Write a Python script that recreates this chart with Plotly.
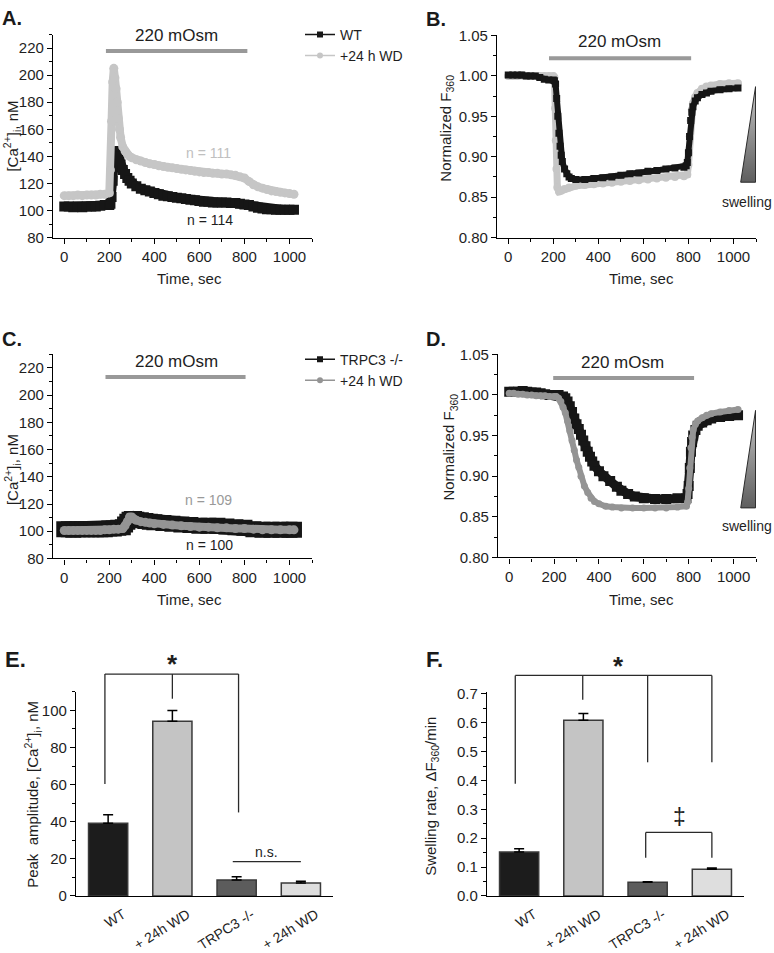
import plotly.graph_objects as go

W, H = 774, 953
FONT = "Liberation Sans, Arial, sans-serif"
INK = "#161616"
LIGHT = "#c6c6c6"
MID = "#949494"
BAR_LINE = "#3a3a3a"

# ---- A: [Ca2+]i, WT and +24 h WD
t_a = [0, 20, 40, 60, 80, 100, 120, 140, 160, 180, 200,
       205, 210, 215, 220, 225, 230, 235, 240, 245, 250,
       260, 270, 280, 290, 300,
       320, 340, 360, 380, 400, 420, 440, 460, 480, 500, 520, 540, 560, 580, 600,
       620, 640, 660, 680, 700, 720, 740, 760, 780, 800, 820, 840, 860, 880, 900,
       920, 940, 960, 980, 1000, 1020]
ca_wt = [103, 103, 102.5, 103, 102.5, 103, 103, 103, 103.5, 104, 104,
         105, 110, 122, 132, 140, 144, 143, 140, 137, 134,
         130, 127, 124, 122, 120,
         118, 116, 115, 114, 113, 112, 111, 110.5, 110, 109.5, 109, 108.5, 108, 107.5, 107,
         106.5, 106.5, 106, 106, 106, 106, 105.5, 105.5, 105, 104.5, 104, 103, 102, 101.5, 101,
         101, 100.5, 100.5, 100.5, 100.5, 100.5]
ca_wd = [111, 111, 111, 111.5, 111, 111.5, 111.5, 111.5, 112, 112, 113,
         130, 166, 195, 205, 198, 190, 180, 168, 160, 154,
         147, 144, 141.5, 140, 139,
         137.5, 136.5, 135.5, 134.5, 134, 133, 132.5, 132, 131.5, 131, 130.5, 130, 129.5, 129, 128.5,
         128, 128, 127.5, 127.5, 127, 127, 126.5, 126, 125, 124, 121.5, 119, 117.5, 116.5, 115.5,
         114.5, 114, 113.5, 113, 112.5, 112]

# ---- B: normalized F360, WT and +24 h WD
t_b_wt = [0, 20, 40, 60, 80, 100, 120, 140, 160, 180, 200,
          205, 210, 215, 220, 225, 230, 235, 240, 250, 260, 270, 280,
          300, 340, 380, 420, 460, 500, 540, 580, 620, 660, 700, 740, 780,
          790, 795, 800, 805, 810, 815, 820, 830, 840, 860, 880, 900, 940, 980, 1020]
f_wt = [1.001, 1.001, 1.001, 1.001, 1.000, 1.000, 1.000, 0.998, 0.996, 0.995, 0.995,
        0.994, 0.990, 0.972, 0.950, 0.929, 0.913, 0.902, 0.894, 0.885, 0.879, 0.875, 0.873,
        0.872, 0.872, 0.873, 0.874, 0.875, 0.877, 0.879, 0.880, 0.882, 0.883, 0.885, 0.886, 0.887,
        0.889, 0.893, 0.905, 0.925, 0.945, 0.955, 0.962, 0.969, 0.973, 0.977, 0.979, 0.981, 0.983,
        0.984, 0.985]
t_b_wd = [0, 20, 40, 60, 80, 100, 120, 140, 160, 180, 200,
          205, 208, 211, 214, 218, 225, 235, 250, 270,
          300, 340, 380, 420, 460, 500, 540, 580, 620, 660, 700, 740, 780,
          795, 800, 803, 806, 810, 815, 820, 830, 840, 860, 880, 900, 940, 980, 1020]
f_wd = [1.000, 1.000, 1.000, 1.001, 1.000, 1.000, 1.000, 1.000, 1.000, 1.000, 1.000,
        0.998, 0.960, 0.920, 0.885, 0.862, 0.857, 0.858, 0.860, 0.862,
        0.864, 0.865, 0.866, 0.867, 0.868, 0.869, 0.870, 0.871, 0.872, 0.873, 0.874, 0.875, 0.876,
        0.878, 0.890, 0.905, 0.925, 0.945, 0.958, 0.966, 0.974, 0.979, 0.984, 0.987, 0.988,
        0.990, 0.991, 0.991]

# ---- C: [Ca2+]i, TRPC3 -/- and +24 h WD
t_c = [0, 20, 40, 60, 80, 100, 120, 140, 160, 180, 200, 220, 240, 260,
       270, 280, 290, 300, 310, 320, 340, 360, 380, 400,
       440, 480, 520, 560, 600, 640, 680, 720, 760, 800, 840, 880, 920, 960, 1000, 1020]
ca_ko = [101.5, 101.5, 101, 101.5, 101.5, 101.5, 101.5, 101.5, 101.5, 101.5, 102, 102, 102.5, 103,
         105, 107, 108.5, 109, 109, 108.5, 108, 107.5, 107, 106.5,
         106, 105.5, 105, 104.5, 104, 104, 104, 103.5, 103, 102.5, 101.5, 101, 101, 101, 101, 101]
ca_ko_wd = [100.5, 100.5, 100.5, 100.5, 100.5, 100.5, 100.5, 100.5, 100.5, 101, 101, 101.5, 101.5, 102,
            104, 107, 110.5, 110.5, 109, 108, 107, 106.5, 106, 105.5,
            105, 104.5, 104, 103.5, 103, 103, 102.5, 102.5, 102, 102, 101.5, 101, 101, 101, 101, 101]

# ---- D: normalized F360, TRPC3 -/- and +24 h WD
t_d_ko = [0, 20, 40, 60, 80, 100, 120, 140, 160, 180, 200, 220, 240,
          250, 260, 270, 280, 290, 300, 310, 320, 330, 340, 350, 360, 370, 380,
          400, 420, 450, 480, 500, 530, 560, 600, 650, 700, 750, 790,
          795, 800, 805, 810, 815, 820, 830, 840, 860, 880, 900, 940, 980, 1020]
f_ko = [1.004, 1.004, 1.004, 1.005, 1.004, 1.003, 1.003, 1.002, 1.001, 1.000, 1.000, 1.000, 0.998,
        0.996, 0.992, 0.986, 0.979, 0.971, 0.964, 0.958, 0.951, 0.944, 0.937, 0.930, 0.924, 0.918, 0.913,
        0.906, 0.900, 0.894, 0.887, 0.882, 0.878, 0.875, 0.873, 0.872, 0.872, 0.873, 0.873,
        0.878, 0.888, 0.910, 0.930, 0.942, 0.950, 0.957, 0.962, 0.966, 0.969, 0.971, 0.973,
        0.974, 0.975]
t_d_wd = [0, 20, 40, 60, 80, 100, 120, 140, 160, 180, 200,
          210, 220, 230, 240, 250, 260, 270, 280, 290, 300, 310, 320, 335, 350, 365, 380,
          400, 430, 460, 500, 550, 600, 650, 700, 750, 790,
          795, 800, 805, 810, 815, 820, 830, 840, 860, 880, 900, 940, 980, 1020]
f_ko_wd = [1.002, 1.002, 1.001, 1.001, 1.000, 1.000, 0.999, 0.999, 0.999, 0.998, 0.998,
           0.998, 0.996, 0.992, 0.985, 0.978, 0.968, 0.956, 0.944, 0.932, 0.920, 0.911, 0.900,
           0.888, 0.880, 0.873, 0.869,
           0.866, 0.863, 0.862, 0.861, 0.861, 0.861, 0.861, 0.861, 0.862, 0.863,
           0.868, 0.885, 0.910, 0.935, 0.948, 0.957, 0.964, 0.968, 0.972, 0.975, 0.977, 0.979,
           0.981, 0.982]

# ---- E / F: summary bars
bar_labels = ["WT", "+ 24h WD", "TRPC3 -/-", "+ 24h WD"]
peak_amp = [39.2, 94.2, 8.6, 7.0]
peak_err = [4.6, 5.8, 1.8, 0.9]
swell_rate = [0.152, 0.609, 0.047, 0.092]
swell_err = [0.011, 0.023, 0.002, 0.005]
bar_colors = ["#1c1c1c", "#c4c4c4", "#5c5c5c", "#dedede"]


def px(x):
    return x / W


def py(y):
    return 1 - y / H


fig = go.Figure()


def band(x, y, ax, color, width, symbol):
    # dense markers + thick line read as the SEM band of the original traces
    fig.add_trace(go.Scatter(
        x=x, y=y, xaxis="x" + ax, yaxis="y" + ax, mode="lines+markers",
        line=dict(color=color, width=width),
        marker=dict(color=color, size=width + 1, symbol=symbol),
        showlegend=False, hoverinfo="skip"))


band(t_a, ca_wt, "", INK, 9, "square")
band(t_a, ca_wd, "", LIGHT, 8, "circle")
band(t_b_wd, f_wd, "2", LIGHT, 7, "circle")
band(t_b_wt, f_wt, "2", INK, 6, "square")
band(t_c, ca_ko, "3", INK, 15, "square")
band(t_c, ca_ko_wd, "3", MID, 8, "circle")
band(t_d_ko, f_ko, "4", INK, 9, "square")
band(t_d_wd, f_ko_wd, "4", MID, 6, "circle")

# legend entries (thin line + marker, like the original key)
for name, color, sym, lg in [("WT", INK, "square", "legend"),
                             ("+24 h WD", LIGHT, "circle", "legend"),
                             ("TRPC3 -/-", INK, "square", "legend2"),
                             ("+24 h WD", MID, "circle", "legend2")]:
    fig.add_trace(go.Scatter(
        x=[None], y=[None], mode="lines+markers", name=name, legend=lg,
        line=dict(color=color, width=1.5), marker=dict(color=color, size=6, symbol=sym)))

# swelling wedges
for ax, y0, y1 in [("2", 0.8685, 0.9867), ("4", 0.861, 0.981)]:
    fig.add_trace(go.Scatter(
        x=[1032, 1098, 1098, 1032], y=[y0, y0, y1, y0], xaxis="x" + ax, yaxis="y" + ax,
        mode="lines", fill="toself", line=dict(color="#2a2a2a", width=1),
        fillgradient=dict(type="vertical", colorscale=[[0, "#5e5e5e"], [1, "#c4c4c4"]]),
        showlegend=False, hoverinfo="skip"))

# bars
for ax, vals, errs in [("5", peak_amp, peak_err), ("6", swell_rate, swell_err)]:
    fig.add_trace(go.Bar(
        x=[0, 1, 2, 3], y=vals, width=0.61, xaxis="x" + ax, yaxis="y" + ax,
        marker=dict(color=bar_colors, line=dict(color=BAR_LINE, width=1.5)),
        error_y=dict(type="data", symmetric=False, array=errs, arrayminus=[0, 0, 0, 0],
                     color="black", thickness=1.5, width=5),
        showlegend=False, hoverinfo="skip"))


def axis(**kw):
    base = dict(showline=True, linecolor="black", linewidth=1.3, ticks="outside", ticklen=5,
                tickwidth=1.2, tickcolor="black", showgrid=False, zeroline=False,
                tickfont=dict(size=15, color="#1e1e1e"), fixedrange=True)
    base.update(kw)
    return base


def time_axis(x0, x1, anchor):
    return axis(domain=[px(x0), px(x1)], range=[-50, 1100], anchor=anchor, dtick=200, tick0=0,
                minor=dict(ticks="outside", ticklen=3, dtick=100, tick0=0, tickcolor="black"))


def cat_axis(x0, x1, anchor):
    return axis(domain=[px(x0), px(x1)], range=[-0.5, 3.5], anchor=anchor, ticks="",
                tickvals=[0, 1, 2, 3], ticktext=bar_labels, tickangle=-32,
                tickfont=dict(size=14, color="#1e1e1e"), ticklabelshift=15,
                ticklabelstandoff=4)


layout_axes = dict(
    xaxis=time_axis(53, 312, "y"),
    yaxis=axis(domain=[py(233), py(26)], range=[80, 230], anchor="x", dtick=20, tick0=80,
               minor=dict(ticks="outside", ticklen=3, dtick=10, tick0=80, tickcolor="black")),
    xaxis2=time_axis(497, 756, "y2"),
    yaxis2=axis(domain=[py(233), py(27)], range=[0.8, 1.05], anchor="x2", dtick=0.05, tick0=0.8,
                tickformat=".2f",
                minor=dict(ticks="outside", ticklen=3, dtick=0.025, tick0=0.8, tickcolor="black")),
    xaxis3=time_axis(53, 312, "y3"),
    yaxis3=axis(domain=[py(560), py(352)], range=[80, 230], anchor="x3", dtick=20, tick0=80,
                minor=dict(ticks="outside", ticklen=3, dtick=10, tick0=80, tickcolor="black")),
    xaxis4=time_axis(498, 756, "y4"),
    yaxis4=axis(domain=[py(559), py(352)], range=[0.8, 1.05], anchor="x4", dtick=0.05, tick0=0.8,
                tickformat=".2f",
                minor=dict(ticks="outside", ticklen=3, dtick=0.025, tick0=0.8, tickcolor="black")),
    xaxis5=cat_axis(76, 333, "y5"),
    yaxis5=axis(domain=[py(904), py(696)], range=[0, 110], anchor="x5", dtick=20, tick0=0,
                minor=dict(ticks="outside", ticklen=3, dtick=10, tick0=0, tickcolor="black")),
    xaxis6=cat_axis(487, 744, "y6"),
    yaxis6=axis(domain=[py(904), py(696)], range=[0, 0.707], anchor="x6", dtick=0.1, tick0=0,
                tickformat=".1f",
                minor=dict(ticks="outside", ticklen=3, dtick=0.05, tick0=0, tickcolor="black")),
)

shapes = []
# 220 mOsm application bars
for ax, x0, x1, y in [("", 185, 813, 217.8), ("2", 181, 812, 1.022),
                      ("3", 183, 805, 213.3), ("4", 196, 824, 1.021)]:
    shapes.append(dict(type="line", xref="x" + ax, yref="y" + ax, x0=x0, x1=x1, y0=y, y1=y,
                       line=dict(color="#999999", width=4)))


def xd(c):
    return (c + 0.5) / 4


def seg(ax, c0, v0, c1, v1, top):
    shapes.append(dict(type="line", xref="x%s domain" % ax, yref="y%s domain" % ax,
                       x0=xd(c0), x1=xd(c1), y0=v0 / top, y1=v1 / top,
                       line=dict(color="#2a2a2a", width=1.3)))


# E brackets
seg("5", -0.05, 119.6, 2.03, 119.6, 110)
seg("5", -0.05, 119.6, -0.05, 60.3, 110)
seg("5", 1.0, 119.6, 1.0, 106.3, 110)
seg("5", 2.03, 119.6, 2.03, 45, 110)
seg("5", 1.94, 18.5, 3.0, 18.5, 110)
# F brackets
top_f = 0.707
seg("6", -0.06, 0.764, 3.0, 0.764, top_f)
seg("6", -0.06, 0.764, -0.06, 0.389, top_f)
seg("6", 0.99, 0.764, 0.99, 0.68, top_f)
seg("6", 2.0, 0.764, 2.0, 0.463, top_f)
seg("6", 3.0, 0.764, 3.0, 0.463, top_f)
seg("6", 1.97, 0.22, 3.0, 0.22, top_f)
seg("6", 1.97, 0.22, 1.97, 0.132, top_f)
seg("6", 3.0, 0.22, 3.0, 0.132, top_f)

ann = []


def note(text, x, y, size=15, color="#1e1e1e", xref="paper", yref="paper", angle=0,
         xanchor="center", bold=False):
    if bold:
        text = "<b>%s</b>" % text
    ann.append(dict(text=text, x=x, y=y, xref=xref, yref=yref, showarrow=False,
                    font=dict(size=size, color=color, family=FONT), textangle=angle,
                    xanchor=xanchor, yanchor="middle"))


# panel letters
for letter, x, y, s in [("A.", 0, 9, 20), ("B.", 424, 10, 20), ("C.", 0, 336, 20),
                        ("D.", 424, 336, 20), ("E.", 3, 663, 22), ("F.", 424, 663, 22)]:
    note(letter, px(x), py(y), size=s, color="#1a1a1a", xanchor="left", bold=True)

# 220 mOsm labels
note("220 mOsm", 500, 229.5, size=17, xref="x", yref="y")
note("220 mOsm", 496, 1.042, size=17, xref="x2", yref="y2")
note("220 mOsm", 500, 224.6, size=17, xref="x3", yref="y3")
note("220 mOsm", 505, 1.0405, size=17, xref="x4", yref="y4")

# n labels
note("n = 111", 640, 142.5, size=14, color="#c0c0c0", xref="x", yref="y")
note("n = 114", 647, 93.2, size=14, xref="x", yref="y")
note("n = 109", 641, 122.7, size=14, color="#999999", xref="x3", yref="y3")
note("n = 100", 644, 90.1, size=14, xref="x3", yref="y3")

# swelling labels
note("swelling", 1060, 0.844, size=14, xref="x2", yref="y2")
note("swelling", 1062, 0.8385, size=14, xref="x4", yref="y4")

# axis titles
ca_title = "[Ca<sup>2+</sup>]<sub>i</sub>, nM"
f_title = "Normalized F<sub>360</sub>"
note(ca_title, px(12), py(130), angle=-90)
note(ca_title, px(12), py(470), angle=-90)
note(f_title, px(447), py(122), angle=-90)
note(f_title, px(450), py(447), angle=-90)
for y in (275, 602):
    note("Time, sec", px(189), py(y))
    note("Time, sec", px(641), py(y))
note("Peak  amplitude, [Ca<sup>2+</sup>]<sub>i</sub>, nM", px(33), py(801), angle=-90)
note("Swelling rate, \u0394F<sub>360</sub>/min", px(432), py(803), angle=-90)

# significance marks
note("<b>*</b>", xd(1.0), 1.135, size=26, xref="x5 domain", yref="y5 domain")
note("n.s.", xd(2.47), 23.8 / 110, size=14, xref="x5 domain", yref="y5 domain")
note("<b>*</b>", xd(1.55), 1.129, size=26, xref="x6 domain", yref="y6 domain")
note("\u2021", xd(2.5), 0.274 / top_f, size=23, xref="x6 domain", yref="y6 domain")

legend_style = dict(font=dict(size=14, color="#1e1e1e", family=FONT), bgcolor="rgba(0,0,0,0)",
                    xanchor="left", yanchor="top", tracegroupgap=0, itemwidth=30)

fig.update_layout(
    width=W, height=H,
    margin=dict(l=0, r=0, t=0, b=0),
    paper_bgcolor="white", plot_bgcolor="white",
    font=dict(family=FONT, size=14, color="#1e1e1e"),
    shapes=shapes, annotations=ann,
    legend=dict(x=px(300), y=py(10), **legend_style),
    legend2=dict(x=px(300), y=py(341), **legend_style),
    bargap=0.3,
    **layout_axes,
)

# the page body has a default margin; drop it so the figure sits at the window origin
fig.write_html("out.html", post_script="document.body.style.margin='0';",
               config={"displayModeBar": False})
